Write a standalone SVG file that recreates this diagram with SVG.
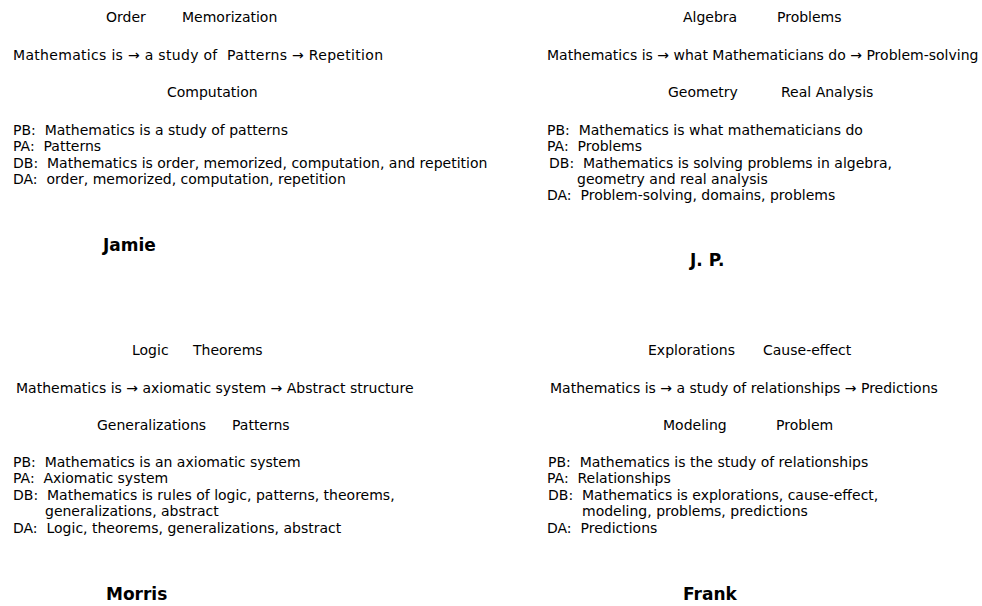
<svg xmlns="http://www.w3.org/2000/svg" width="982" height="606" viewBox="0 0 982 606">
<style>
text{font-family:"DejaVu Sans","Liberation Sans",sans-serif;font-size:14px;fill:#000;white-space:pre}
.n{font-weight:bold;font-size:17px}
</style>
<rect width="982" height="606" fill="#fff"/>
<g id="jamie" xml:space="preserve">
<text x="106" y="22">Order</text>
<text x="182" y="22">Memorization</text>
<text x="13" y="60" textLength="370">Mathematics is → a study of  Patterns → Repetition</text>
<text x="167" y="97">Computation</text>
<text x="13" y="135">PB:  Mathematics is a study of patterns</text>
<text x="13" y="151">PA:  Patterns</text>
<text x="13" y="168">DB:  Mathematics is order, memorized, computation, and repetition</text>
<text x="13" y="184">DA:  order, memorized, computation, repetition</text>
<text class="n" x="103" y="251">Jamie</text>
</g>
<g id="jp" xml:space="preserve">
<text x="683" y="22">Algebra</text>
<text x="777" y="22">Problems</text>
<text x="547" y="60">Mathematics is → what Mathematicians do → Problem-solving</text>
<text x="668" y="97">Geometry</text>
<text x="781" y="97">Real Analysis</text>
<text x="547" y="135">PB:  Mathematics is what mathematicians do</text>
<text x="547" y="151">PA:  Problems</text>
<text x="549" y="168">DB:  Mathematics is solving problems in algebra,</text>
<text x="577" y="184">geometry and real analysis</text>
<text x="547" y="200">DA:  Problem-solving, domains, problems</text>
<text class="n" x="690" y="266">J. P.</text>
</g>
<g id="morris" xml:space="preserve">
<text x="132" y="355">Logic</text>
<text x="193" y="355">Theorems</text>
<text x="16" y="393">Mathematics is → axiomatic system → Abstract structure</text>
<text x="97" y="430">Generalizations</text>
<text x="232" y="430">Patterns</text>
<text x="13" y="467">PB:  Mathematics is an axiomatic system</text>
<text x="13" y="483">PA:  Axiomatic system</text>
<text x="13" y="500">DB:  Mathematics is rules of logic, patterns, theorems,</text>
<text x="45" y="516">generalizations, abstract</text>
<text x="13" y="533">DA:  Logic, theorems, generalizations, abstract</text>
<text class="n" x="106" y="600">Morris</text>
</g>
<g id="frank" xml:space="preserve">
<text x="648" y="355">Explorations</text>
<text x="763" y="355">Cause-effect</text>
<text x="550" y="393">Mathematics is → a study of relationships → Predictions</text>
<text x="663" y="430">Modeling</text>
<text x="776" y="430">Problem</text>
<text x="548" y="467">PB:  Mathematics is the study of relationships</text>
<text x="547" y="483">PA:  Relationships</text>
<text x="548" y="500">DB:  Mathematics is explorations, cause-effect,</text>
<text x="582" y="516">modeling, problems, predictions</text>
<text x="547" y="533">DA:  Predictions</text>
<text class="n" x="683" y="600">Frank</text>
</g>
<g id="connectors"/>
</svg>
